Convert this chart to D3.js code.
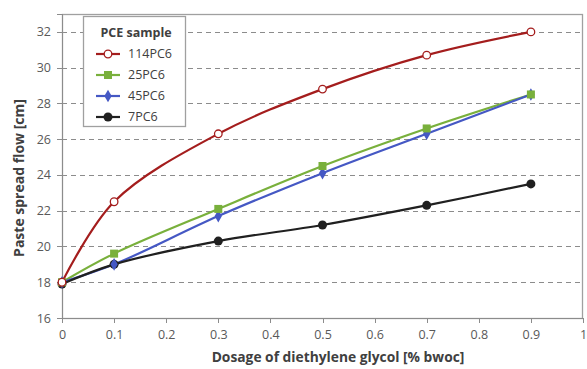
<!DOCTYPE html>
<meta charset="utf-8">
<style>
body { margin: 0; background: #fff; }
text { font-family: "Open Sans", sans-serif; }
.grid line { stroke: #8c8c8c; stroke-dasharray: 5,4; shape-rendering: crispEdges; }
.grid path { stroke-width: 0; }
.axis text { fill: #595959; font-size: 12.5px; }
.axis path, .axis line { stroke: #8c8c8c; shape-rendering: crispEdges; }
.line { fill: none; stroke-width: 2.2px; }
</style>
<body>
<script src="https://d3js.org/d3.v7.min.js"></script>
<script>

// data
var dosage = [0, 0.1, 0.3, 0.5, 0.7, 0.9];
var s114PC6 = [18.0, 22.5, 26.3, 28.8, 30.7, 32.0];
var s25PC6  = [18.0, 19.6, 22.1, 24.5, 26.6, 28.5];
var s45PC6  = [18.0, 19.0, 21.7, 24.1, 26.3, 28.5];
var s7PC6   = [17.9, 19.0, 20.3, 21.2, 22.3, 23.5];
var xTicks = [0, 0.1, 0.2, 0.3, 0.4, 0.5, 0.6, 0.7, 0.8, 0.9, 1];
var yTicks = [16, 18, 20, 22, 24, 26, 28, 30, 32];

var series = [
  {name: "114PC6", values: s114PC6, color: "#a41d1d", marker: "open"},
  {name: "25PC6",  values: s25PC6,  color: "#79b03c", marker: "square"},
  {name: "45PC6",  values: s45PC6,  color: "#4558c4", marker: "diamond"},
  {name: "7PC6",   values: s7PC6,   color: "#202020", marker: "dot"}
];

var margin = {top: 14, right: 4, bottom: 51, left: 62},
    width = 587 - margin.left - margin.right,
    height = 369 - margin.top - margin.bottom;

var x = d3.scaleLinear().domain([0, 1]).range([0, width]);
var y = d3.scaleLinear().domain([16, 33]).range([height, 0]);

var svg = d3.select("body").append("svg")
    .attr("width", 587)
    .attr("height", 369)
    .append("g")
    .attr("transform", "translate(" + margin.left + "," + margin.top + ")");

// dashed gridlines
svg.append("g")
    .attr("class", "grid")
    .call(d3.axisLeft(y).tickValues(yTicks.slice(1)).tickSize(-width).tickFormat(""));

// plot border
svg.append("rect")
    .attr("x", 0.5).attr("y", 0.5)
    .attr("width", width - 1).attr("height", height)
    .attr("fill", "none").attr("stroke", "#a0a0a0").attr("stroke-width", 1.3);

// axes
svg.append("g")
    .attr("class", "axis")
    .attr("transform", "translate(0," + height + ")")
    .call(d3.axisBottom(x).tickValues(xTicks).tickSize(5).tickPadding(7)
      .tickFormat(function(d) { return d3.format("")(d); }));

svg.append("g")
    .attr("class", "axis")
    .call(d3.axisLeft(y).tickValues(yTicks).tickSize(5).tickPadding(6));

// lines
var line = d3.line()
    .curve(d3.curveCatmullRom.alpha(0.5))
    .x(function(d, i) { return x(dosage[i]); })
    .y(function(d) { return y(d); });

function drawMarker(g, type, color, cx, cy) {
  if (type == "open") {
    g.append("circle").attr("cx", cx).attr("cy", cy).attr("r", 3.8)
      .attr("fill", "#fff").attr("stroke", color).attr("stroke-width", 1.3);
  } else if (type == "square") {
    g.append("rect").attr("x", cx - 4).attr("y", cy - 4).attr("width", 8).attr("height", 8)
      .attr("fill", color);
  } else if (type == "diamond") {
    g.append("path").attr("d", d3.symbol(d3.symbolDiamond, 46)())
      .attr("transform", "translate(" + cx + "," + cy + ")")
      .attr("fill", color);
  } else {
    g.append("circle").attr("cx", cx).attr("cy", cy).attr("r", 4.5).attr("fill", color);
  }
}

series.forEach(function(s) {
  svg.append("path")
      .datum(s.values)
      .attr("class", "line")
      .style("stroke", s.color)
      .attr("d", line);
});

series.slice().reverse().forEach(function(s) {
  var g = svg.append("g");
  s.values.forEach(function(v, i) {
    drawMarker(g, s.marker, s.color, x(dosage[i]), y(v));
  });
});

// legend
var legend = svg.append("g").attr("transform", "translate(" + (83 - margin.left) + "," + (16 - margin.top) + ")");
legend.append("rect")
    .attr("x", 0.5).attr("y", 0.5).attr("width", 102).attr("height", 110)
    .attr("fill", "#fff").attr("stroke", "#a0a0a0").attr("stroke-width", 1.3);
legend.append("text")
    .attr("x", 53).attr("y", 17).attr("dy", ".35em")
    .attr("text-anchor", "middle")
    .style("font-size", "12.5px").style("font-weight", "bold").style("fill", "#404040")
    .text("PCE sample");
series.forEach(function(s, i) {
  var ly = 38 + i * 21;
  legend.append("line")
      .attr("x1", 13).attr("x2", 37).attr("y1", ly).attr("y2", ly)
      .attr("stroke", s.color).attr("stroke-width", 2.2);
  drawMarker(legend, s.marker, s.color, 25, ly);
  legend.append("text")
      .attr("x", 45).attr("y", ly).attr("dy", ".35em")
      .style("font-size", "12.5px").style("fill", "#404040")
      .text(s.name);
});

// axis titles
svg.append("text")
    .attr("x", 338 - margin.left)
    .attr("y", height + 44)
    .attr("text-anchor", "middle")
    .style("font-size", "13.8px").style("font-weight", "bold").style("fill", "#404040")
    .text("Dosage of diethylene glycol [% bwoc]");

svg.append("text")
    .attr("transform", "translate(" + (19 - margin.left) + "," + (178 - margin.top) + ") rotate(-90)")
    .attr("text-anchor", "middle")
    .attr("dy", ".35em")
    .style("font-size", "14px").style("font-weight", "bold").style("fill", "#404040")
    .text("Paste spread flow [cm]");

</script>
</body>
